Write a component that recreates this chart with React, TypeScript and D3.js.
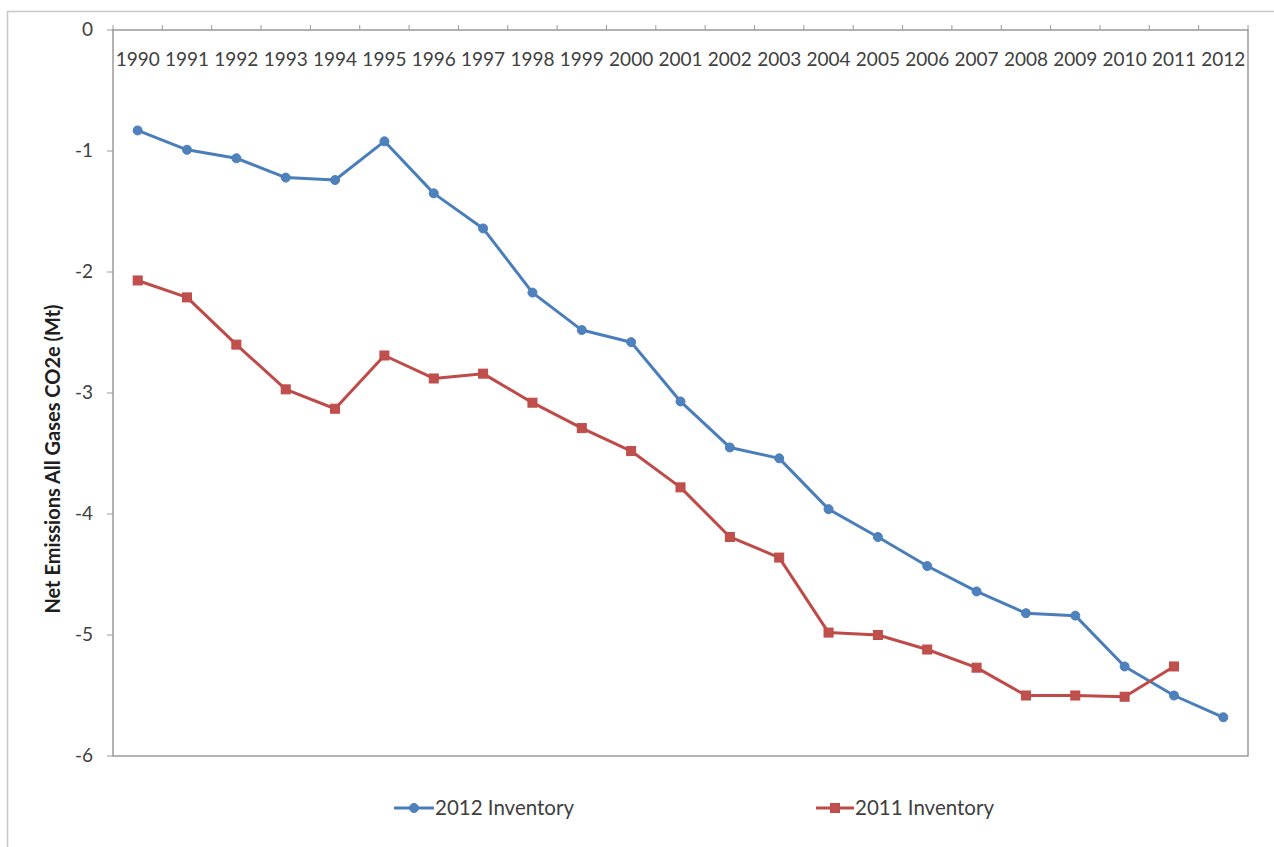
import React from "react";
import * as d3 from "d3";

const years = ["1990","1991","1992","1993","1994","1995","1996","1997","1998","1999","2000","2001","2002","2003","2004","2005","2006","2007","2008","2009","2010","2011","2012"];
const inv2012 = [-0.83,-0.99,-1.06,-1.22,-1.24,-0.92,-1.35,-1.64,-2.17,-2.48,-2.58,-3.07,-3.45,-3.54,-3.96,-4.19,-4.43,-4.64,-4.82,-4.84,-5.26,-5.50,-5.68];
const inv2011 = [-2.07,-2.21,-2.60,-2.97,-3.13,-2.69,-2.88,-2.84,-3.08,-3.29,-3.48,-3.78,-4.19,-4.36,-4.98,-5.00,-5.12,-5.27,-5.50,-5.50,-5.51,-5.26];
const yTicks = [0,-1,-2,-3,-4,-5,-6];
const seriesNames = ["2012 Inventory","2011 Inventory"];

const W = 1274, H = 847;
const L = 113, R = 1248, T = 30, B = 756;
const BLUE = "#4A7EBB", RED = "#BE4B48";
const FONT = "Lato, 'Liberation Sans', sans-serif";

export default function App() {
  const x = d3.scaleBand<string>().domain(years).range([L, R]);
  const y = d3.scaleLinear().domain([0, -6]).range([T, B]);
  const cx = (i: number) => (x(years[i]) as number) + x.bandwidth() / 2;
  const line = d3.line<number>().x((_, i) => cx(i)).y((d) => y(d));
  const boundaries = years.map((yr) => x(yr) as number).concat([R]);

  return (
    <svg width={W} height={H} style={{ position: "absolute", left: 0, top: 0, background: "#fff" }}>
      <rect x={7.5} y={11.5} width={1300} height={900} fill="#fff" stroke="#c8c8c8" strokeWidth={1.5} />
      {/* plot area box */}
      <rect x={L} y={T} width={R - L} height={B - T} fill="none" stroke="#9a9a9a" strokeWidth={1.5} />
      {/* x ticks (top, outward) */}
      {boundaries.map((bx, i) => (
        <line key={"xt" + i} x1={bx} x2={bx} y1={T - 5} y2={T} stroke="#9a9a9a" strokeWidth={1} />
      ))}
      {years.map((yr, i) => (
        <text key={"xl" + yr} x={cx(i)} y={66} textAnchor="middle" fontFamily={FONT} fontSize={19} fill="#404040">{yr}</text>
      ))}
      {/* y ticks */}
      {yTicks.map((t) => (
        <g key={"yt" + t}>
          <line x1={L - 6} x2={L} y1={y(t)} y2={y(t)} stroke="#9a9a9a" strokeWidth={1} />
          <text x={93} y={y(t) + 6} textAnchor="end" fontFamily={FONT} fontSize={19} fill="#404040">{t === 0 ? "0" : "-" + Math.abs(t)}</text>
        </g>
      ))}
      <text transform={`translate(60,459) rotate(-90)`} textAnchor="middle" fontFamily={FONT} fontWeight="bold" fontSize={20} fill="#202020">Net Emissions All Gases CO2e (Mt)</text>
      {/* series */}
      <path d={line(inv2012) || ""} fill="none" stroke={BLUE} strokeWidth={3} strokeLinejoin="round" />
      {inv2012.map((v, i) => (
        <circle key={"b" + i} cx={cx(i)} cy={y(v)} r={4.5} fill="#4F81BD" stroke={BLUE} strokeWidth={1} />
      ))}
      <path d={line(inv2011) || ""} fill="none" stroke={RED} strokeWidth={3} strokeLinejoin="round" />
      {inv2011.map((v, i) => (
        <rect key={"r" + i} x={cx(i) - 4.5} y={y(v) - 4.5} width={9} height={9} fill="#C0504D" stroke={RED} strokeWidth={1} />
      ))}
      {/* legend */}
      <g>
        <line x1={394} x2={434} y1={808} y2={808} stroke={BLUE} strokeWidth={3} />
        <circle cx={414} cy={808} r={4.5} fill="#4F81BD" stroke={BLUE} />
        <text x={435} y={815} fontFamily={FONT} fontSize={20.5} fill="#404040">{seriesNames[0]}</text>
        <line x1={816} x2={854} y1={808} y2={808} stroke={RED} strokeWidth={3} />
        <rect x={830.5} y={803.5} width={9} height={9} fill="#C0504D" stroke={RED} />
        <text x={855} y={815} fontFamily={FONT} fontSize={20.5} fill="#404040">{seriesNames[1]}</text>
      </g>
    </svg>
  );
}
